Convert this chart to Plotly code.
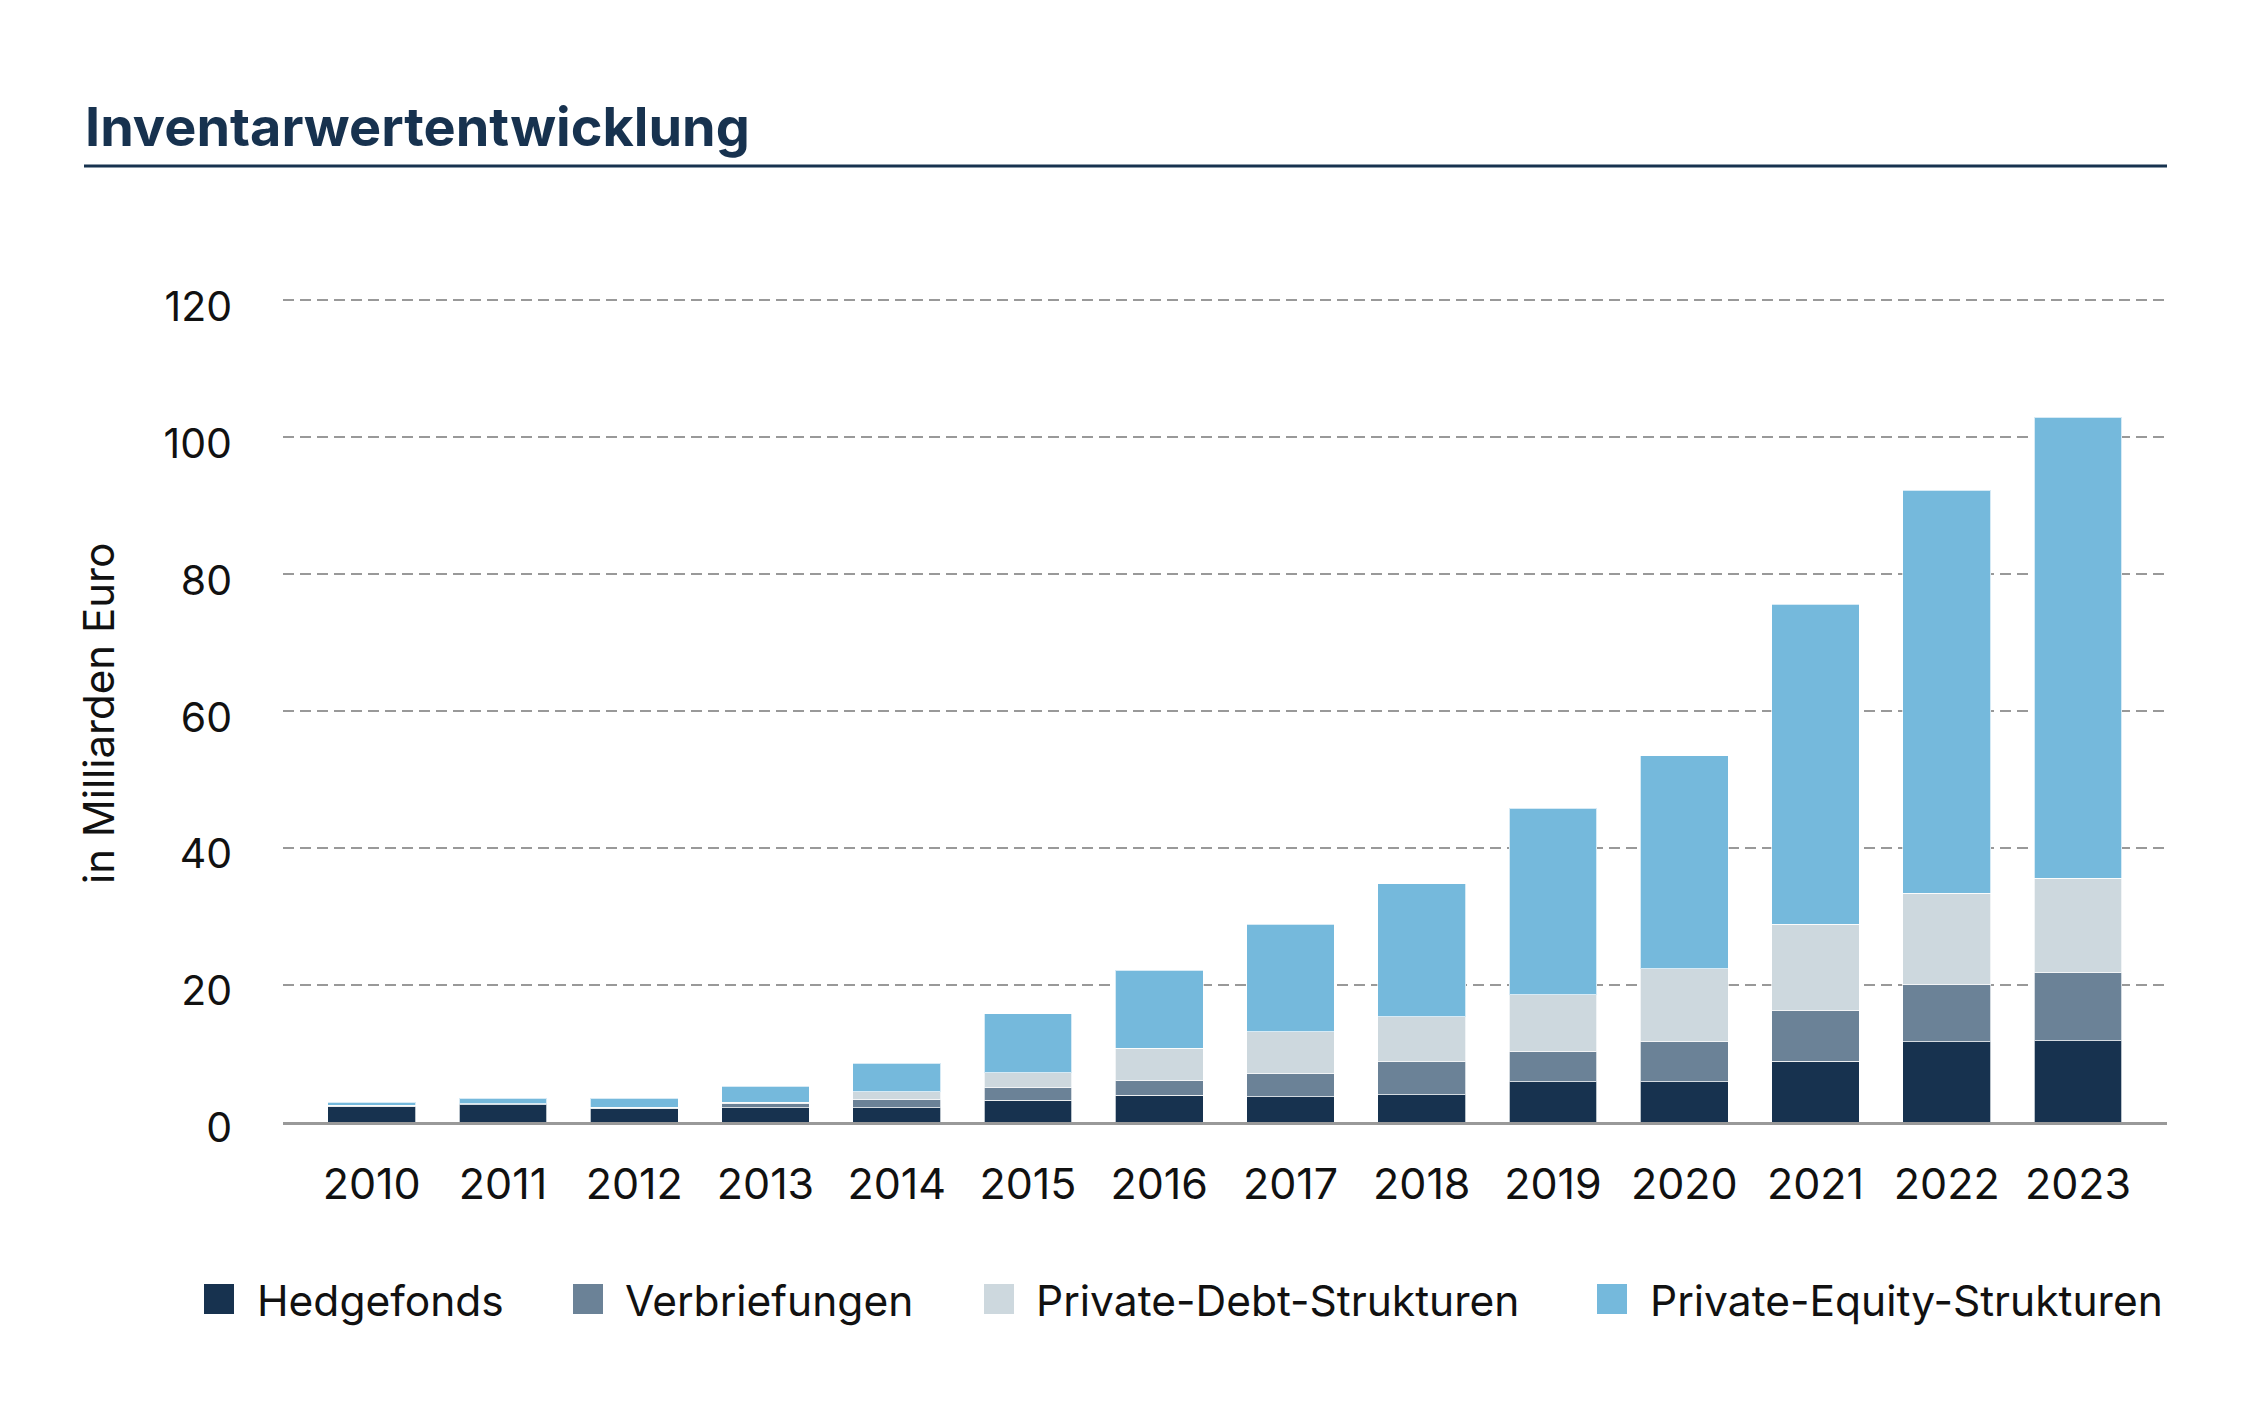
import plotly.graph_objects as go

# Inventarwertentwicklung in Mrd. Euro
years = [str(y) for y in range(2010, 2024)]
hedgefonds = [2.3, 2.5, 2.0, 2.1, 2.1, 3.2, 3.9, 3.7, 4.0, 5.9, 5.9, 8.85, 11.7, 11.9]
verbriefungen = [0.15, 0.15, 0.15, 0.6, 1.25, 1.9, 2.2, 3.4, 4.8, 4.4, 5.9, 7.45, 8.4, 10.0]
private_debt = [0.0, 0.0, 0.0, 0.15, 1.05, 2.1, 4.7, 6.1, 6.6, 8.3, 10.6, 12.6, 13.3, 13.7]
private_equity = [0.45, 0.8, 1.35, 2.35, 4.2, 8.6, 11.4, 15.7, 19.4, 27.2, 31.1, 46.7, 58.9, 67.3]

series_names = ["Hedgefonds", "Verbriefungen", "Private-Debt-Strukturen", "Private-Equity-Strukturen"]
series_colors = ["#17324f", "#6b8297", "#cdd8de", "#75b9dc"]
y_ticks = [0, 20, 40, 60, 80, 100, 120]

FONT = "Inter"
NAVY = "#17324f"
TXT = "#111111"

# figure geometry (pixels)
W, H = 2250, 1417
L, R, T, B = 283, 83, 273, 295
PW, PH = W - L - R, H - T - B


def px_x(px):
    return (px - L) / PW


def px_y(py):
    return (H - B - py) / PH


fig = go.Figure()
for name, vals, col in zip(series_names, [hedgefonds, verbriefungen, private_debt, private_equity], series_colors):
    fig.add_trace(go.Bar(
        x=years, y=vals, name=name,
        marker=dict(color=col, line=dict(width=1, color="rgba(255,255,255,0.7)")),
        width=0.67, showlegend=False,
    ))

fig.update_layout(
    width=W, height=H,
    barmode="stack",
    plot_bgcolor="white", paper_bgcolor="white",
    margin=dict(l=L, r=R, t=T, b=B),
    font=dict(family=FONT, size=42, color=TXT),
)

fig.update_xaxes(
    type="category", range=[-0.676, 13.678],
    showgrid=False, showline=True, linecolor="#999999", linewidth=3,
    ticks="", ticklabelstandoff=22,
    tickfont=dict(family=FONT, size=43, color=TXT),
)
fig.update_yaxes(
    range=[0, 124], tickvals=y_ticks,
    showgrid=True, gridcolor="#999999", gridwidth=2, griddash="11px,6px",
    zeroline=False, showline=False, ticks="", ticklabelstandoff=50,
    ticklabelshift=6,
    tickfont=dict(family=FONT, size=41, color=TXT),
)

# title and rule
fig.add_annotation(
    text="<b>Inventarwertentwicklung</b>", xref="paper", yref="paper",
    x=px_x(83), y=px_y(126), xanchor="left", yanchor="middle", showarrow=False,
    font=dict(family=FONT, size=54, color=NAVY),
)
fig.add_shape(
    type="line", xref="paper", yref="paper",
    x0=px_x(84), x1=1, y0=px_y(166), y1=px_y(166),
    line=dict(color=NAVY, width=3),
)

# y axis title
fig.add_annotation(
    text="in Milliarden Euro", xref="paper", yref="paper",
    x=px_x(98), y=px_y(714), xanchor="center", yanchor="middle", textangle=-90,
    showarrow=False, font=dict(family=FONT, size=42, color=TXT),
)

# legend drawn by hand so the swatches match the reference size
sq_left = [204, 573, 984, 1597]
txt_left = [255, 623, 1034, 1648]
for name, col, sx, tx in zip(series_names, series_colors, sq_left, txt_left):
    fig.add_shape(
        type="rect", xref="paper", yref="paper",
        x0=px_x(sx), x1=px_x(sx + 30), y0=px_y(1314), y1=px_y(1284),
        fillcolor=col, line=dict(width=0),
    )
    fig.add_annotation(
        text=name, xref="paper", yref="paper",
        x=px_x(tx), y=px_y(1300), xanchor="left", yanchor="middle",
        showarrow=False, font=dict(family=FONT, size=42.5, color=TXT),
    )

# page body has a default 8px margin; drop it so the figure sits at the origin
fig.write_html(
    "out.html",
    config={"displayModeBar": False},
    post_script="document.body.style.margin='0';",
)
